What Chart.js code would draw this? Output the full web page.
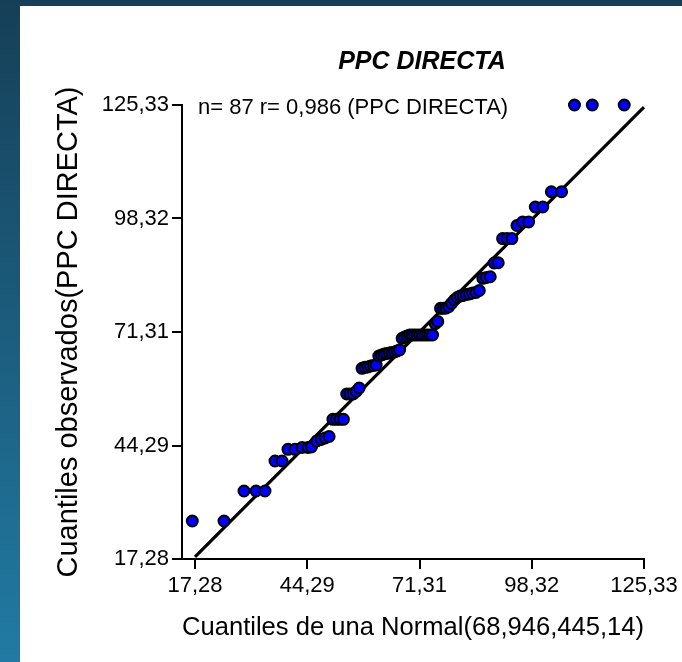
<!DOCTYPE html>
<html>
<head>
<meta charset="utf-8">
<script src="https://cdn.jsdelivr.net/npm/chart.js@4.4.1/dist/chart.umd.min.js"></script>
<style>
  html, body { margin: 0; padding: 0; background: #ffffff; }
  canvas { display: block; }
</style>
</head>
<body>
<canvas id="qq" width="682" height="662"></canvas>
<script>
// Q-Q plot: expected normal quantiles vs. sorted observations (PPC DIRECTA, n = 87)
const normalQuantiles = [
  16.63, 24.26, 29.07, 31.96, 34.12, 36.53, 38.22, 39.66, 41.34, 43.03,
  44.47, 45.30, 46.58, 47.63, 48.60, 49.55, 50.46, 51.34, 52.19, 52.99,
  53.79, 54.57, 55.33, 56.07, 56.79, 57.48, 58.18, 58.88, 59.55, 60.21,
  60.86, 61.51, 62.17, 62.80, 63.43, 64.05, 64.66, 65.29, 65.90, 66.51,
  67.13, 67.73, 68.33, 68.94, 69.55, 70.15, 70.75, 71.37, 71.98, 72.59,
  73.22, 73.83, 74.45, 75.08, 75.71, 76.37, 77.02, 77.67, 78.33, 79.00,
  79.70, 80.40, 81.09, 81.81, 82.55, 83.31, 84.09, 84.89, 85.69, 86.54,
  87.42, 88.33, 89.28, 90.25, 91.30, 92.38, 93.54, 94.76, 96.11, 97.57,
  99.17, 100.97, 103.03, 105.50, 108.60, 112.89, 120.57
];
const observedQuantiles = [
  26.32, 26.32, 33.46, 33.46, 33.46, 40.60, 40.60, 43.39, 43.39, 43.81,
  43.81, 43.93, 45.36, 45.72, 46.08, 46.43, 50.53, 50.53, 50.53, 50.53,
  56.55, 56.55, 56.55, 57.14, 57.98, 62.66, 62.90, 62.97, 63.21, 63.33,
  63.45, 65.59, 65.83, 66.07, 66.19, 66.30, 66.42, 66.54, 66.78, 67.02,
  69.80, 70.11, 70.35, 70.59, 70.59, 70.59, 70.59, 70.59, 70.59, 70.59,
  70.59, 70.59, 70.59, 73.30, 73.80, 76.94, 76.94, 77.00, 77.32, 78.13,
  78.92, 79.51, 79.87, 79.99, 80.23, 80.35, 80.60, 80.70, 81.18, 84.08,
  84.27, 84.46, 87.72, 87.79, 93.55, 93.55, 93.55, 96.65, 97.48, 97.48,
  101.05, 101.05, 104.69, 104.69, 125.33, 125.33, 125.33
];

// Fitted reference line end points
const fitX = [17.28, 125.33];
const fitY = [17.76, 124.85];

// Axis ticks shared by both axes
const axisTicks = [17.28, 44.29, 71.31, 98.32, 125.33];
const axisTickLabels = ['17,28', '44,29', '71,31', '98,32', '125,33'];

const chartTitle = 'PPC DIRECTA';
const statsNote = 'n= 87 r= 0,986 (PPC DIRECTA)';
const xTitle = 'Cuantiles de una Normal(68,946,445,14)';
const yTitle = 'Cuantiles observados(PPC DIRECTA)';

const FONT = '"Liberation Sans", Arial, Helvetica, sans-serif';

const points = normalQuantiles.map((x, i) => ({ x, y: observedQuantiles[i] }));
const fitLine = fitX.map((x, i) => ({ x, y: fitY[i] }));

function tickLabel(v) {
  const i = axisTicks.indexOf(v);
  return i >= 0 ? axisTickLabels[i] : '';
}
function setTicks(scale) {
  scale.ticks = axisTicks.map(v => ({ value: v }));
}

// Slide-style frame behind the white panel
const framePlugin = {
  id: 'frame',
  beforeDraw(chart) {
    const { ctx, width, height } = chart;
    ctx.save();
    const g = ctx.createLinearGradient(0, 0, 0, height);
    g.addColorStop(0, '#163f57');
    g.addColorStop(1, '#217aa3');
    ctx.fillStyle = g;
    ctx.fillRect(0, 0, width, height);
    ctx.fillStyle = '#ffffff';
    ctx.fillRect(20, 6, width - 20, height - 6);
    ctx.restore();
  }
};

// Title and sample statistics note
const textPlugin = {
  id: 'texts',
  afterDraw(chart) {
    const { ctx, chartArea } = chart;
    ctx.save();
    ctx.fillStyle = '#000000';
    ctx.textBaseline = 'middle';
    ctx.textAlign = 'center';
    ctx.font = 'italic bold 25px ' + FONT;
    ctx.fillText(chartTitle, chartArea.left + 240, chartArea.top - 43);
    ctx.textAlign = 'left';
    ctx.font = '22px ' + FONT;
    ctx.fillText(statsNote, chartArea.left + 16, chartArea.top + 3);
    ctx.restore();
  }
};

new Chart(document.getElementById('qq'), {
  type: 'scatter',
  data: {
    datasets: [
      {
        label: 'Observados',
        data: points,
        order: 0,
        backgroundColor: '#0000ff',
        borderColor: '#000000',
        borderWidth: 2,
        pointRadius: 5.5,
        pointHoverRadius: 5.5,
        clip: false
      },
      {
        type: 'line',
        label: 'Ajuste',
        data: fitLine,
        order: 1,
        borderColor: '#000000',
        borderWidth: 3.2,
        pointRadius: 0,
        fill: false,
        clip: false
      }
    ]
  },
  options: {
    responsive: false,
    animation: false,
    events: [],
    layout: { padding: { left: 20, top: 105, right: 38, bottom: 0 } },
    plugins: {
      legend: { display: false },
      title: { display: false },
      tooltip: { enabled: false }
    },
    scales: {
      x: {
        type: 'linear',
        min: 14.15,
        max: 125.33,
        afterBuildTicks: setTicks,
        afterFit(scale) { scale.height = 103; },
        border: { display: true, color: '#000000', width: 2 },
        grid: { display: true, drawOnChartArea: false, drawTicks: true, tickLength: 10, color: '#000000', lineWidth: 2 },
        ticks: {
          callback: tickLabel,
          color: '#000000',
          font: { family: FONT, size: 22 },
          padding: 4,
          maxRotation: 0,
          autoSkip: false
        },
        title: {
          display: true,
          text: xTitle,
          color: '#000000',
          font: { family: FONT, size: 26 },
          padding: { top: 0, bottom: 19 }
        }
      },
      y: {
        type: 'linear',
        min: 17.28,
        max: 125.33,
        afterBuildTicks: setTicks,
        afterFit(scale) { scale.width = 162; },
        border: { display: true, color: '#000000', width: 2 },
        grid: { display: true, drawOnChartArea: false, drawTicks: true, tickLength: 10, color: '#000000', lineWidth: 2 },
        ticks: {
          callback: tickLabel,
          color: '#000000',
          font: { family: FONT, size: 22 },
          padding: 3,
          autoSkip: false
        },
        title: {
          display: true,
          text: yTitle,
          color: '#000000',
          font: { family: FONT, size: 29 },
          padding: { top: 32, bottom: 0 }
        }
      }
    }
  },
  plugins: [framePlugin, textPlugin]
});
</script>
</body>
</html>
